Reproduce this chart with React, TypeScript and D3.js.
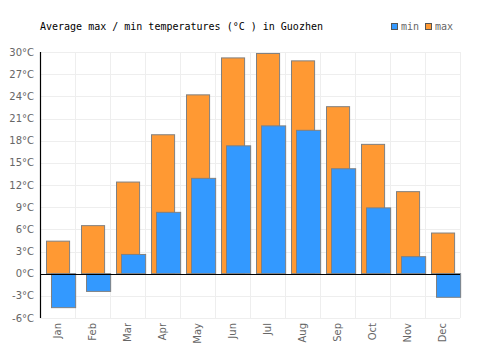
import { useEffect, useRef } from "react";
import * as d3 from "d3";

const months = ["Jan", "Feb", "Mar", "Apr", "May", "Jun", "Jul", "Aug", "Sep", "Oct", "Nov", "Dec"];
const maxTemps = [4.4, 6.5, 12.4, 18.8, 24.2, 29.2, 29.8, 28.8, 22.6, 17.5, 11.1, 5.5];
const minTemps = [-4.6, -2.4, 2.6, 8.3, 12.9, 17.3, 20.0, 19.4, 14.2, 8.9, 2.3, -3.2];
const yTicks = [-6, -3, 0, 3, 6, 9, 12, 15, 18, 21, 24, 27, 30];

const width = 500;
const height = 350;

function App() {
    const svgRef = useRef<SVGSVGElement>(null);

    useEffect(() => {
        const margin = { top: 52, right: 40, bottom: 32, left: 40 };
        const innerWidth = width - margin.left - margin.right;
        const innerHeight = height - margin.top - margin.bottom;

        const svg = d3.select(svgRef.current);
        svg.selectAll("*").remove();

        const g = svg
            .append("g")
            .attr("transform", `translate(${margin.left}, ${margin.top})`);

        const x = d3.scaleBand().domain(months).range([0, innerWidth]);
        const y = d3.scaleLinear().domain([-6, 30]).range([innerHeight, 0]);

        // grid
        g.selectAll(".hgrid")
            .data(yTicks)
            .enter()
            .append("line")
            .attr("x1", 0)
            .attr("x2", innerWidth)
            .attr("y1", d => Math.round(y(d)) + 0.5)
            .attr("y2", d => Math.round(y(d)) + 0.5)
            .attr("stroke", "#eeeeee");

        g.selectAll(".vgrid")
            .data(months)
            .enter()
            .append("line")
            .attr("x1", d => Math.round(x(d)! + x.bandwidth()) + 0.5)
            .attr("x2", d => Math.round(x(d)! + x.bandwidth()) + 0.5)
            .attr("y1", 0)
            .attr("y2", innerHeight)
            .attr("stroke", "#eeeeee");

        const bw = x.bandwidth();

        // max bars (behind)
        g.selectAll(".maxbar")
            .data(months)
            .enter()
            .append("rect")
            .attr("x", d => Math.round(x(d)! + bw * 0.18) + 0.5)
            .attr("width", bw * 0.66)
            .attr("y", (d, i) => y(Math.max(0, maxTemps[i])))
            .attr("height", (d, i) => Math.abs(y(maxTemps[i]) - y(0)))
            .attr("fill", "#ff9933")
            .attr("stroke", "#808080")
            .attr("stroke-width", 1);

        // min bars (front)
        g.selectAll(".minbar")
            .data(months)
            .enter()
            .append("rect")
            .attr("x", d => Math.round(x(d)! + bw * 0.315) + 0.5)
            .attr("width", bw * 0.69)
            .attr("y", (d, i) => y(Math.max(0, minTemps[i])))
            .attr("height", (d, i) => Math.abs(y(minTemps[i]) - y(0)))
            .attr("fill", "#3399ff")
            .attr("stroke", "#808080")
            .attr("stroke-width", 1);

        // zero line
        g.append("line")
            .attr("x1", 0)
            .attr("x2", innerWidth)
            .attr("y1", Math.round(y(0)) + 0.5)
            .attr("y2", Math.round(y(0)) + 0.5)
            .attr("stroke", "#000")
            .attr("stroke-width", 1.2);

        // left axis line
        g.append("line")
            .attr("x1", 0.5)
            .attr("x2", 0.5)
            .attr("y1", 0)
            .attr("y2", innerHeight)
            .attr("stroke", "#000")
            .attr("stroke-width", 1.2);

        // y tick labels
        g.selectAll(".ylabel")
            .data(yTicks)
            .enter()
            .append("text")
            .attr("x", -6)
            .attr("y", d => y(d))
            .attr("dy", "0.35em")
            .attr("text-anchor", "end")
            .attr("fill", "#666")
            .style("font-family", "DejaVu Sans, sans-serif")
            .style("font-size", "10px")
            .text(d => `${d}°C`);

        // x tick labels
        g.selectAll(".xlabel")
            .data(months)
            .enter()
            .append("text")
            .attr("transform", d => `translate(${x(d)! + bw / 2}, ${innerHeight + 5}) rotate(-90)`)
            .attr("dy", "0.35em")
            .attr("text-anchor", "end")
            .attr("fill", "#666")
            .style("font-family", "DejaVu Sans, sans-serif")
            .style("font-size", "10px")
            .text(d => d);

        // title
        svg.append("text")
            .attr("x", 40)
            .attr("y", 30)
            .attr("fill", "#000")
            .style("font-family", "DejaVu Sans Mono, monospace")
            .style("font-size", "10px")
            .text("Average max / min temperatures (°C ) in Guozhen");

        // legend
        const legend = svg.append("g").attr("transform", "translate(391, 23)");
        const items = [
            { name: "min", color: "#3399ff", x: 0 },
            { name: "max", color: "#ff9933", x: 34 },
        ];
        const li = legend
            .selectAll(".li")
            .data(items)
            .enter()
            .append("g")
            .attr("transform", d => `translate(${d.x}, 0)`);
        li.append("rect")
            .attr("x", 0.5)
            .attr("y", 0.5)
            .attr("width", 6)
            .attr("height", 6)
            .attr("fill", d => d.color)
            .attr("stroke", "#555");
        li.append("text")
            .attr("x", 10)
            .attr("y", 7)
            .attr("fill", "#666")
            .style("font-family", "DejaVu Sans Mono, monospace")
            .style("font-size", "10px")
            .text(d => d.name);
    }, []);

    return (
        <svg
            ref={svgRef}
            width={width}
            height={height}
            style={{ position: "absolute", left: 0, top: 0, background: "#fff" }}
        />
    );
}

export default App;
